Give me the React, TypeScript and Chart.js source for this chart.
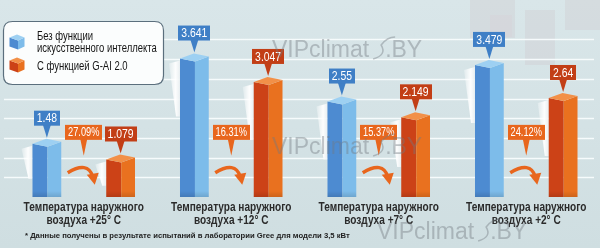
import { useEffect, useRef } from "react";
import { Chart, registerables } from "chart.js";
Chart.register(...registerables);

const categories = [
  ["Температура наружного", "воздуха +25° C"],
  ["Температура наружного", "воздуха +12° C"],
  ["Температура наружного", "воздуха +7° C"],
  ["Температура наружного", "воздуха +2° C"],
];
const seriesNames = ["Без функции искусственного интеллекта", "С функцией G-AI 2.0"];
const legendLines = [["Без функции", "искусственного интеллекта"], ["С функцией G-AI 2.0"]];
const withoutAI = [1.48, 3.641, 2.55, 3.479];
const withAI = [1.079, 3.047, 2.149, 2.64];
const reductionLabels = ["27.09%", "16.31%", "15.37%", "24.12%"];
const gridValues = [0.5, 1, 1.5, 2, 2.5, 3, 3.5, 4];
const footnote = "* Данные получены в результате испытаний в лаборатории Gree для модели 3,5 кВт";
const watermarkText = ["VIPclimat", ".BY"];

const SANS = "'Liberation Sans', Arial, sans-serif";

const palettes = [
  { left: "#4d8bd1", right: "#7dbcea", top: "#9dd0f2", label: "#3f7fc6" },
  { left: "#cc4217", right: "#e9711f", top: "#f29048", label: "#c23e16" },
];
const percentColor = "#e8661d";

function poly(ctx: CanvasRenderingContext2D, pts: number[][], fill: any) {
  ctx.beginPath();
  ctx.moveTo(pts[0][0], pts[0][1]);
  for (let i = 1; i < pts.length; i++) ctx.lineTo(pts[i][0], pts[i][1]);
  ctx.closePath();
  ctx.fillStyle = fill;
  ctx.fill();
}

function textC(ctx: CanvasRenderingContext2D, text: string, x: number, y: number, sx: number, align: CanvasTextAlign) {
  ctx.save();
  ctx.translate(x, y);
  ctx.scale(sx, 1);
  ctx.textAlign = align;
  ctx.fillText(text, 0, 0);
  ctx.restore();
}

function drawBox3D(ctx: CanvasRenderingContext2D, x: number, yv: number, base: number, w: number, pal: any) {
  const xl = x - w / 2, xr = x + w / 2, xm = xl + w * 0.52, xb = xl + (xr - xm);
  const a = 5, b = 3;
  const h = base - yv;
  const len = Math.min(55, h * 0.55);
  const g = ctx.createLinearGradient(xl - 11, 0, xl, 0);
  g.addColorStop(0, "rgba(255,255,255,0.25)");
  g.addColorStop(0.6, "rgba(255,255,255,0.95)");
  g.addColorStop(1, "rgba(235,240,242,0.9)");
  poly(ctx, [[xl - 11, yv + 10], [xl, yv + 7], [xl, yv + 8 + len], [xl - 4, yv + 8 + len]], g);
  poly(ctx, [[xl, yv + a], [xm, yv + a + b], [xm, base], [xl, base]], pal.left);
  poly(ctx, [[xm, yv + a + b], [xr, yv + b], [xr, base], [xm, base]], pal.right);
  poly(ctx, [[xl, yv + a], [xb, yv], [xr, yv + b], [xm, yv + a + b]], pal.top);
  const sg = ctx.createLinearGradient(0, base - 6, 0, base);
  sg.addColorStop(0, "rgba(0,0,0,0)");
  sg.addColorStop(1, "rgba(0,0,0,0.12)");
  poly(ctx, [[xl, base - 6], [xr, base - 6], [xr, base], [xl, base]], sg);
}

function labelBox(ctx: CanvasRenderingContext2D, text: string, cx: number, bottom: number, tipY: number, color: string, font: string, sx: number, tipW: number) {
  ctx.font = font;
  const tw = ctx.measureText(text).width * sx;
  const bw = tw + 6, bh = 15;
  poly(ctx, [[cx - tipW / 2, bottom - 1], [cx + tipW / 2, bottom - 1], [cx, tipY]], color);
  ctx.fillStyle = color;
  ctx.fillRect(Math.round(cx - bw / 2), bottom - bh, Math.round(bw), bh);
  ctx.fillStyle = "#ffffff";
  ctx.textBaseline = "middle";
  textC(ctx, text, cx, bottom - bh / 2 + 0.5, sx, "center");
}

function cube(ctx: CanvasRenderingContext2D, cx: number, cy: number, s: number, pal: any) {
  const xl = cx - s / 2, xr = cx + s / 2, xm = cx + 1;
  const top = cy - s / 2;
  poly(ctx, [[xl, top + 3], [xm, top + 6], [xm, cy + s / 2], [xl, cy + s / 2 - 3]], pal.left);
  poly(ctx, [[xm, top + 6], [xr, top + 3], [xr, cy + s / 2 - 3], [xm, cy + s / 2]], pal.right);
  poly(ctx, [[xl, top + 3], [cx, top], [xr, top + 3], [xm, top + 6]], pal.top);
}

function roundRect(ctx: CanvasRenderingContext2D, x: number, y: number, w: number, h: number, r: number) {
  ctx.beginPath();
  ctx.moveTo(x + r, y);
  ctx.lineTo(x + w - r, y);
  ctx.quadraticCurveTo(x + w, y, x + w, y + r);
  ctx.lineTo(x + w, y + h - r);
  ctx.quadraticCurveTo(x + w, y + h, x + w - r, y + h);
  ctx.lineTo(x + r, y + h);
  ctx.quadraticCurveTo(x, y + h, x, y + h - r);
  ctx.lineTo(x, y + r);
  ctx.quadraticCurveTo(x, y, x + r, y);
  ctx.closePath();
}

function watermark(ctx: CanvasRenderingContext2D, x: number, y: number) {
  ctx.save();
  ctx.fillStyle = "rgba(115,122,128,0.42)";
  ctx.strokeStyle = "rgba(115,122,128,0.42)";
  ctx.font = `23px ${SANS}`;
  ctx.textAlign = "left";
  ctx.textBaseline = "alphabetic";
  ctx.fillText(watermarkText[0], x, y);
  const w1 = ctx.measureText(watermarkText[0]).width;
  const sx = x + w1 + 4;
  ctx.lineWidth = 1.5;
  ctx.beginPath();
  ctx.moveTo(sx, y + 2);
  ctx.quadraticCurveTo(sx + 14, y - 2, sx + 8, y - 12);
  ctx.quadraticCurveTo(sx + 14, y - 20, sx + 22, y - 20);
  ctx.stroke();
  ctx.fillText(watermarkText[1], sx + 12, y);
  ctx.restore();
}

const decorPlugin = {
  id: "decor",
  beforeDraw(chart: any) {
    const { ctx, width, height } = chart;
    const yS = chart.scales.y;
    ctx.save();
    const bg = ctx.createLinearGradient(0, 0, 0, height);
    bg.addColorStop(0, "#d9e6e9");
    bg.addColorStop(1, "#cfdee1");
    ctx.fillStyle = bg;
    ctx.fillRect(0, 0, width, height);
    ctx.fillStyle = "rgba(205,200,206,0.35)";
    ctx.fillRect(470, 0, 45, 38);
    ctx.fillRect(525, 10, 30, 55);
    ctx.fillRect(565, 0, 35, 30);
    ctx.fillStyle = "rgba(215,210,215,0.4)";
    ctx.fillRect(490, 15, 22, 22);
    ctx.strokeStyle = "rgba(248,252,253,0.95)";
    ctx.lineWidth = 1.6;
    for (const v of gridValues) {
      const py = Math.round(yS.getPixelForValue(v)) + 0.5;
      ctx.beginPath();
      ctx.moveTo(4, py);
      ctx.lineTo(594, py);
      ctx.stroke();
    }
    ctx.restore();
  },
  afterDatasetsDraw(chart: any) {
    const { ctx } = chart;
    const yS = chart.scales.y;
    const xS = chart.scales.x;
    ctx.save();
    const metas = [chart.getDatasetMeta(0), chart.getDatasetMeta(1)];
    metas.forEach((meta: any, di: number) => {
      meta.data.forEach((el: any) => {
        const p = el.getProps(["x", "y", "base", "width"], true);
        drawBox3D(ctx, p.x, p.y, p.base, p.width, palettes[di]);
      });
    });
    metas.forEach((meta: any, di: number) => {
      const vals = chart.data.datasets[di].data;
      meta.data.forEach((el: any, i: number) => {
        const p = el.getProps(["x", "y"], true);
        labelBox(ctx, String(vals[i]), p.x, p.y - 13, p.y - 1, palettes[di].label, `13px ${SANS}`, 0.8, 8);
      });
    });
    reductionLabels.forEach((t, i) => {
      const b = metas[0].data[i].getProps(["x"], true).x;
      const o = metas[1].data[i].getProps(["x"], true).x;
      const cx = (b + o) / 2;
      const boxBottom = yS.getPixelForValue(1.45);
      const tip = yS.getPixelForValue(1.05);
      labelBox(ctx, t, cx, boxBottom, tip, percentColor, `12.5px ${SANS}`, 0.74, 7);
      const ya = yS.getPixelForValue(0.72);
      ctx.strokeStyle = percentColor;
      ctx.lineWidth = 3.5;
      ctx.lineCap = "butt";
      ctx.beginPath();
      ctx.moveTo(cx - 16, ya + 4);
      ctx.quadraticCurveTo(cx + 4, ya - 8, cx + 9, ya + 8);
      ctx.stroke();
      poly(ctx, [[cx + 3, ya + 6], [cx + 15, ya + 4], [cx + 11, ya + 16]], percentColor);
    });
    ctx.fillStyle = "#2b2b2b";
    ctx.font = `bold 12px ${SANS}`;
    ctx.textBaseline = "alphabetic";
    const base = yS.getPixelForValue(0);
    categories.forEach((lines, i) => {
      const cx = xS.getPixelForValue(i);
      lines.forEach((ln, k) => textC(ctx, ln, cx, base + 14 + k * 12.5, 0.84, "center"));
    });
    ctx.restore();
  },
  afterDraw(chart: any) {
    const { ctx } = chart;
    ctx.save();
    roundRect(ctx, 3.5, 21.5, 160, 63, 9);
    ctx.fillStyle = "#fbfdfd";
    ctx.fill();
    ctx.strokeStyle = "#5b6f7d";
    ctx.lineWidth = 1.2;
    ctx.stroke();
    cube(ctx, 17, 42, 15, palettes[0]);
    cube(ctx, 17, 65, 15, palettes[1]);
    ctx.fillStyle = "#141414";
    ctx.font = `13px ${SANS}`;
    ctx.textBaseline = "middle";
    textC(ctx, legendLines[0][0], 37, 36, 0.73, "left");
    textC(ctx, legendLines[0][1], 37, 48, 0.73, "left");
    textC(ctx, legendLines[1][0], 37, 66, 0.73, "left");
    ctx.font = `bold 7.7px ${SANS}`;
    ctx.fillStyle = "#222";
    ctx.textAlign = "left";
    ctx.fillText(footnote, 25, 236);
    watermark(ctx, 272, 57);
    watermark(ctx, 272, 154);
    watermark(ctx, 377, 239);
    ctx.restore();
  },
};

export default function App() {
  const ref = useRef<HTMLCanvasElement>(null);
  useEffect(() => {
    if (!ref.current) return;
    const chart = new Chart(ref.current, {
      type: "bar",
      data: {
        labels: categories.map((c) => c.join(" ")),
        datasets: [
          { label: seriesNames[0], data: withoutAI, backgroundColor: "rgba(0,0,0,0)", borderWidth: 0, categoryPercentage: 1.0, barPercentage: 0.39 },
          { label: seriesNames[1], data: withAI, backgroundColor: "rgba(0,0,0,0)", borderWidth: 0, categoryPercentage: 1.0, barPercentage: 0.39 },
        ],
      },
      options: {
        responsive: false,
        animation: false,
        devicePixelRatio: 1,
        layout: { padding: { left: 10, right: 0, top: 0, bottom: 51 } },
        plugins: { legend: { display: false }, tooltip: { enabled: false } },
        scales: {
          x: { display: false },
          y: { display: false, min: 0, max: 5 },
        },
      },
      plugins: [decorPlugin],
    });
    return () => chart.destroy();
  }, []);
  return (
    <div style={{ position: "absolute", left: 0, top: 0, width: 600, height: 248 }}>
      <canvas ref={ref} width={600} height={248} />
    </div>
  );
}
